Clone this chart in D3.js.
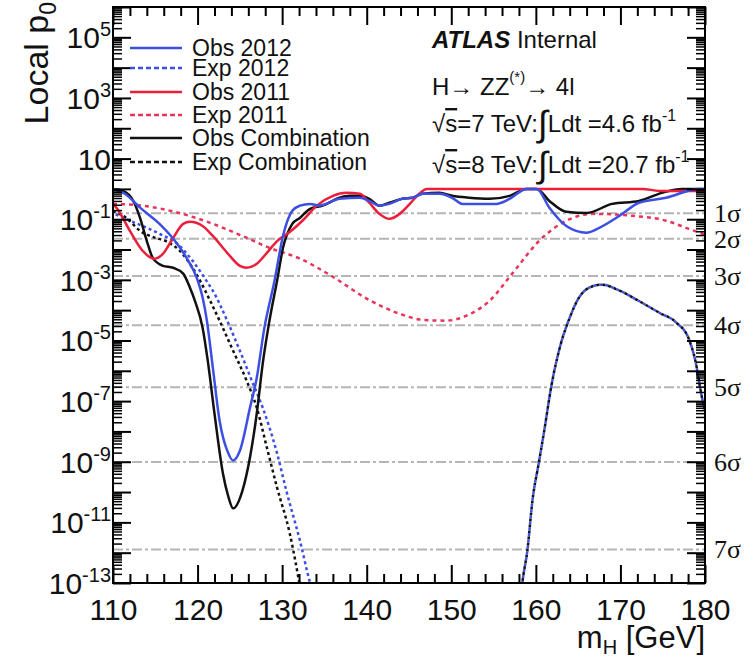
<!DOCTYPE html>
<html>
<head>
<meta charset="utf-8">
<script src="https://cdn.jsdelivr.net/npm/d3@7"></script>
<style>
  body { margin: 0; background: #fff; }
  svg { display: block; font-family: "Liberation Sans", Arial, sans-serif; }
</style>
</head>
<body>
<script>
// [mH in GeV, local p0]; null = curve below 1e-13
const obs2012 = [
  [110, 1.0], [111.4, 0.69], [113.2, 0.24], [115.5, 0.07], [117.1, 0.023], [118.7, 0.0053],
  [119.9, 0.00117], [120.6, 2.6e-4], [121.1, 4.5e-5], [121.8, 1.3e-6], [122.6, 2.3e-8],
  [123.6, 2.0e-9], [124.2, 1.1e-9], [125.0, 2.3e-9], [126.2, 6.1e-8], [127.0, 5.9e-7],
  [127.9, 2.6e-5], [129.1, 9.3e-4], [130.1, 0.028], [131.2, 0.19], [132.1, 0.28], [133.3, 0.32],
  [134.4, 0.28], [136.8, 0.47], [139.2, 0.51], [140.3, 0.40], [141.5, 0.28], [142.7, 0.32],
  [144.2, 0.47], [145.4, 0.51], [146.6, 0.69], [148.6, 0.69], [150.1, 0.51], [151.3, 0.32],
  [153.0, 0.32], [155.3, 0.32], [156.9, 0.47], [158.9, 1.0], [160.1, 1.0], [161.6, 0.24],
  [163.6, 0.06], [166.0, 0.036], [167.5, 0.052], [169.9, 0.13], [172.2, 0.35], [175.4, 0.51],
  [179.3, 1.0], [180, 1.0]
];

const exp2012 = [
  [110, 0.16], [112.0, 0.089], [113.5, 0.060], [115.5, 0.033], [117.6, 0.0155], [119.4, 0.0043],
  [121.2, 8.0e-4], [121.8, 4.4e-4], [123.5, 4.5e-5], [125.0, 4.6e-6], [126.5, 4.1e-7],
  [127.7, 6.1e-8], [129.4, 1.9e-9], [130.5, 1.1e-10], [132.1, 2.5e-12], [133.3, 1e-13],
  [133.6, 5e-14],
  null,
  [158.2, 3e-14], [158.4, 1e-13], [159.0, 1.2e-12], [159.6, 5.3e-11], [160.4, 1.1e-9],
  [161.0, 1.1e-8], [161.8, 2.8e-7], [162.8, 5.4e-6], [164.0, 5.6e-5], [165.1, 2.6e-4],
  [166.3, 5.5e-4], [167.8, 6.9e-4], [169.9, 4.4e-4], [172.2, 2.0e-4], [174.6, 8.2e-5],
  [176.6, 3.9e-5], [178.1, 1.1e-5], [178.9, 1.9e-6], [179.6, 1.5e-7], [180, 4.9e-8]
];

const obs2011 = [
  [110, 0.32], [110.5, 0.22], [112.0, 0.041], [113.5, 0.0091], [114.9, 0.0050], [115.9, 0.0072],
  [117.1, 0.024], [118.3, 0.070], [119.1, 0.082], [120.6, 0.060], [121.8, 0.028], [123.5, 0.0078],
  [125.0, 0.0029], [125.8, 0.0025], [127.0, 0.0034], [128.2, 0.0078], [129.4, 0.019],
  [130.9, 0.038], [132.4, 0.089], [134.1, 0.28], [136.0, 0.59], [137.6, 0.74], [139.2, 0.69],
  [140.3, 0.35], [141.5, 0.15], [142.7, 0.103], [143.9, 0.15], [145.1, 0.32], [146.2, 0.69],
  [147.1, 1.0], [156.9, 1.0], [172.6, 1.0], [174.6, 0.86], [180, 0.86]
];

const exp2011 = [
  [110, 0.32], [113.5, 0.28], [117.3, 0.175], [121.5, 0.076], [125.3, 0.028], [128.5, 0.0114],
  [132.1, 0.0050], [136.0, 1.26e-3], [140.0, 2.4e-4], [143.9, 7.6e-5], [146.6, 4.8e-5],
  [149.4, 4.5e-5], [151.8, 6.6e-5], [154.5, 2.0e-4], [157.2, 1.6e-3], [160.4, 0.0194],
  [163.6, 0.089], [166.7, 0.15], [171.4, 0.13], [175.4, 0.089], [178.1, 0.048], [180, 0.031]
];

const obsComb = [
  [110, 1.0], [111.2, 0.86], [112.4, 0.40], [113.2, 0.11], [114.0, 0.019], [114.7, 0.0053],
  [115.9, 0.0029], [117.1, 0.0025], [118.3, 0.0016], [119.1, 5.5e-4], [119.7, 2.0e-4],
  [120.6, 2.6e-5], [121.2, 2.2e-6], [122.0, 3.9e-8], [123.0, 4.1e-10], [123.6, 7.7e-11],
  [124.2, 2.9e-11], [125.3, 1.1e-10], [126.2, 1.4e-9], [127.0, 3.9e-8], [127.7, 1.7e-6],
  [128.5, 4.5e-5], [129.4, 9.3e-4], [130.1, 0.0114], [131.2, 0.070], [132.1, 0.11],
  [133.3, 0.22], [134.8, 0.28], [136.8, 0.51], [138.0, 0.59], [139.2, 0.59], [140.3, 0.47],
  [141.5, 0.28], [142.7, 0.35], [144.2, 0.47], [145.4, 0.51], [146.6, 0.69], [148.6, 0.74],
  [150.1, 0.59], [152.1, 0.51], [154.5, 0.47], [156.9, 0.59], [158.9, 1.0], [160.1, 1.0],
  [161.6, 0.40], [163.6, 0.175], [166.0, 0.16], [169.0, 0.32], [172.2, 0.40], [174.9, 0.74],
  [177.3, 1.0], [180, 1.0]
];

const expComb = [
  [110, 0.19], [111.7, 0.103], [113.2, 0.041], [114.7, 0.026], [116.4, 0.018], [117.9, 0.0091],
  [119.4, 0.0025], [120.3, 9.3e-4], [121.5, 2.0e-4], [122.6, 4.5e-5], [124.2, 4.6e-6],
  [125.8, 4.7e-7], [127.0, 6.1e-8], [128.2, 2.9e-9], [129.4, 1.4e-10], [130.9, 4.3e-12],
  [132.1, 8e-14],
  null,
  [158.2, 3e-14], [158.4, 1e-13], [159.0, 1.2e-12], [159.6, 5.3e-11], [160.4, 1.1e-9],
  [161.0, 1.1e-8], [161.8, 2.8e-7], [162.8, 5.4e-6], [164.0, 5.6e-5], [165.1, 2.6e-4],
  [166.3, 5.5e-4], [167.8, 6.9e-4], [169.9, 4.4e-4], [172.2, 2.0e-4], [174.6, 8.2e-5],
  [176.6, 3.9e-5], [178.1, 1.1e-5], [178.9, 1.9e-6], [179.6, 1.5e-7], [180, 4.9e-8]
];

const sigmaLabels = ["1σ", "2σ", "3σ", "4σ", "5σ", "6σ", "7σ"];
const sigmaP = [0.1587, 0.02275, 1.35e-3, 3.167e-5, 2.867e-7, 9.866e-10, 1.28e-12];

const xTickLabels = [110, 120, 130, 140, 150, 160, 170, 180];
const yLabelExps = [5, 3, 1, -1, -3, -5, -7, -9, -11, -13];

const legendLabels = ["Obs 2012", "Exp 2012", "Obs 2011", "Exp 2011", "Obs Combination", "Exp Combination"];

const blue = "#3d4fe3";
const red = "#ec1f3a";
const redDash = "#e8345a";
const black = "#111";

const w = 753;
const h = 660;
const padLeft = 113, padRight = 705, padTop = 7, padBottom = 583;

const svg = d3.select("body")
  .append("svg")
  .attr("width", w)
  .attr("height", h);

// Scales
const xScale = d3.scaleLinear().domain([110, 180]).range([padLeft, padRight]);
const yScale = d3.scaleLog().domain([1e-13, 1e6]).range([padBottom, padTop]);

svg.append("clipPath")
  .attr("id", "plot-clip")
  .append("rect")
  .attr("x", padLeft)
  .attr("y", padTop)
  .attr("width", padRight - padLeft)
  .attr("height", padBottom - padTop);

// sigma reference lines
svg.append("g")
  .selectAll("line")
  .data(sigmaP)
  .join("line")
  .attr("x1", padLeft)
  .attr("x2", padRight)
  .attr("y1", (d) => yScale(d))
  .attr("y2", (d) => yScale(d))
  .attr("stroke", "#b5b5b5")
  .attr("stroke-width", 2)
  .attr("stroke-dasharray", "10,3,3,3");

svg.append("g")
  .selectAll("text")
  .data(sigmaP)
  .join("text")
  .attr("x", 714)
  .attr("y", (d) => yScale(d) + 9)
  .attr("font-family", "'Liberation Serif', serif")
  .attr("font-size", 26)
  .attr("fill", "#111")
  .text((d, i) => sigmaLabels[i]);

// curves
const line = d3.line()
  .defined((d) => d !== null)
  .x((d) => xScale(d[0]))
  .y((d) => yScale(d[1]))
  .curve(d3.curveMonotoneX);

const series = [
  { data: exp2011, color: redDash, dash: "4,4", offset: 0 },
  { data: expComb, color: black, dash: "3,3", offset: 0 },
  { data: exp2012, color: blue, dash: "3,3", offset: 3 },
  { data: obsComb, color: black, dash: null, offset: 0 },
  { data: obs2011, color: red, dash: null, offset: 0 },
  { data: obs2012, color: blue, dash: null, offset: 0 }
];

const curves = svg.append("g").attr("clip-path", "url(#plot-clip)");
series.forEach((s) => {
  curves.append("path")
    .datum(s.data)
    .attr("d", line)
    .attr("fill", "none")
    .attr("stroke", s.color)
    .attr("stroke-width", 2.5)
    .attr("stroke-dasharray", s.dash)
    .attr("stroke-dashoffset", s.offset);
});

// Axes (ticks pointing inward, ROOT style)
const xMajor = d3.range(110, 181, 10);
const xMinor = d3.range(110, 181, 2).filter((v) => v % 10 !== 0);
const yMajor = d3.range(-13, 7).map((e) => Math.pow(10, e)).filter((v) => v <= 1e6);
const yMinor = [];
d3.range(-13, 6).forEach((e) => {
  for (let j = 2; j <= 9; j++) yMinor.push(j * Math.pow(10, e));
});

function styleTicks(g) {
  g.select(".domain").remove();
  g.selectAll(".tick line").attr("stroke", "#000").attr("stroke-width", 2);
}

svg.append("g")
  .attr("transform", `translate(0, ${padBottom})`)
  .call(d3.axisBottom(xScale).tickValues(xMajor).tickSize(-18).tickPadding(16)
    .tickFormat((d, i) => xTickLabels[i]))
  .call(styleTicks)
  .call((g) => g.selectAll("text")
    .attr("font-size", 30)
    .attr("font-family", "'Liberation Sans', Arial, sans-serif")
    .attr("fill", "#111"));

svg.append("g")
  .attr("transform", `translate(0, ${padBottom})`)
  .call(d3.axisBottom(xScale).tickValues(xMinor).tickSize(-9).tickFormat(""))
  .call(styleTicks);

svg.append("g")
  .attr("transform", `translate(0, ${padTop})`)
  .call(d3.axisTop(xScale).tickValues(xMajor).tickSize(-18).tickFormat(""))
  .call(styleTicks);

svg.append("g")
  .attr("transform", `translate(0, ${padTop})`)
  .call(d3.axisTop(xScale).tickValues(xMinor).tickSize(-9).tickFormat(""))
  .call(styleTicks);

[[d3.axisLeft, padLeft], [d3.axisRight, padRight]].forEach(([axis, x0]) => {
  svg.append("g")
    .attr("transform", `translate(${x0}, 0)`)
    .call(axis(yScale).tickValues(yMajor).tickSize(-18).tickFormat(""))
    .call(styleTicks);
  svg.append("g")
    .attr("transform", `translate(${x0}, 0)`)
    .call(axis(yScale).tickValues(yMinor).tickSize(-9).tickFormat(""))
    .call(styleTicks)
    .call((g) => g.selectAll(".tick line").attr("stroke-width", 1.5));
});

// frame
svg.append("rect")
  .attr("x", padLeft)
  .attr("y", padTop)
  .attr("width", padRight - padLeft)
  .attr("height", padBottom - padTop)
  .attr("fill", "none")
  .attr("stroke", "#000")
  .attr("stroke-width", 2);

// y tick labels 10^n
const yLab = svg.append("g")
  .selectAll("text")
  .data(yLabelExps)
  .join("text")
  .attr("x", 111)
  .attr("y", (d) => yScale(Math.pow(10, d)) + 11)
  .attr("text-anchor", "end")
  .attr("font-size", 30)
  .attr("fill", "#111");
yLab.append("tspan").text("10");
yLab.filter((d) => d !== 1)
  .append("tspan")
  .attr("dy", -12)
  .attr("font-size", 20)
  .text((d) => d);

// axis titles
const yTitle = svg.append("text")
  .attr("transform", "translate(48, 2) rotate(-90)")
  .attr("text-anchor", "end")
  .attr("font-size", 34)
  .attr("fill", "#111");
yTitle.append("tspan").text("Local p");
yTitle.append("tspan").attr("dy", 8).attr("font-size", 23).text("0");

const xTitle = svg.append("text")
  .attr("x", padRight)
  .attr("y", 648)
  .attr("text-anchor", "end")
  .attr("font-size", 31)
  .attr("fill", "#111");
xTitle.append("tspan").text("m");
xTitle.append("tspan").attr("dy", 6).attr("font-size", 20).text("H");
xTitle.append("tspan").attr("dy", -6).text(" [GeV]");

// legend
const legendY = [48, 68, 92, 115, 138, 162];
const legendSeries = [obs2012, exp2012, obs2011, exp2011, obsComb, expComb].map((d) =>
  series.find((s) => s.data === d));
const legend = svg.append("g");
legendLabels.forEach((label, i) => {
  const s = legendSeries[i];
  legend.append("line")
    .attr("x1", 130)
    .attr("x2", 182)
    .attr("y1", legendY[i])
    .attr("y2", legendY[i])
    .attr("stroke", s.color)
    .attr("stroke-width", 2.5)
    .attr("stroke-dasharray", s.dash ? "5,3" : null);
  legend.append("text")
    .attr("x", 192)
    .attr("y", legendY[i] + 8)
    .attr("font-size", 23)
    .attr("fill", "#111")
    .text(label);
});

// labels, top right
const info = svg.append("g").attr("clip-path", "url(#plot-clip)").attr("fill", "#111");
const atlas = info.append("text").attr("x", 432).attr("y", 48).attr("font-size", 24);
atlas.append("tspan").attr("font-weight", "bold").attr("font-style", "italic").text("ATLAS");
atlas.append("tspan").text(" Internal");

const chan = info.append("text").attr("x", 432).attr("y", 95).attr("font-size", 24);
chan.append("tspan").text("H→ ZZ");
chan.append("tspan").attr("dy", -13).attr("font-size", 15).text("(*)");
chan.append("tspan").attr("dy", 13).text("→ 4l");

const lumiLines = [["7", "4.6", 132], ["8", "20.7", 173]];
lumiLines.forEach(([e, l, y]) => {
  const t = info.append("text").attr("x", 432).attr("y", y).attr("font-size", 24);
  t.append("tspan").text("√");
  t.append("tspan").attr("text-decoration", "overline").text("s");
  t.append("tspan").text(`=${e} TeV:`);
  t.append("tspan").attr("font-size", 36).attr("dy", 4).text("∫");
  t.append("tspan").attr("dy", -4).text(`Ldt =${l} fb`);
  t.append("tspan").attr("dy", -11).attr("font-size", 16).text("-1");
});
</script>
</body>
</html>
